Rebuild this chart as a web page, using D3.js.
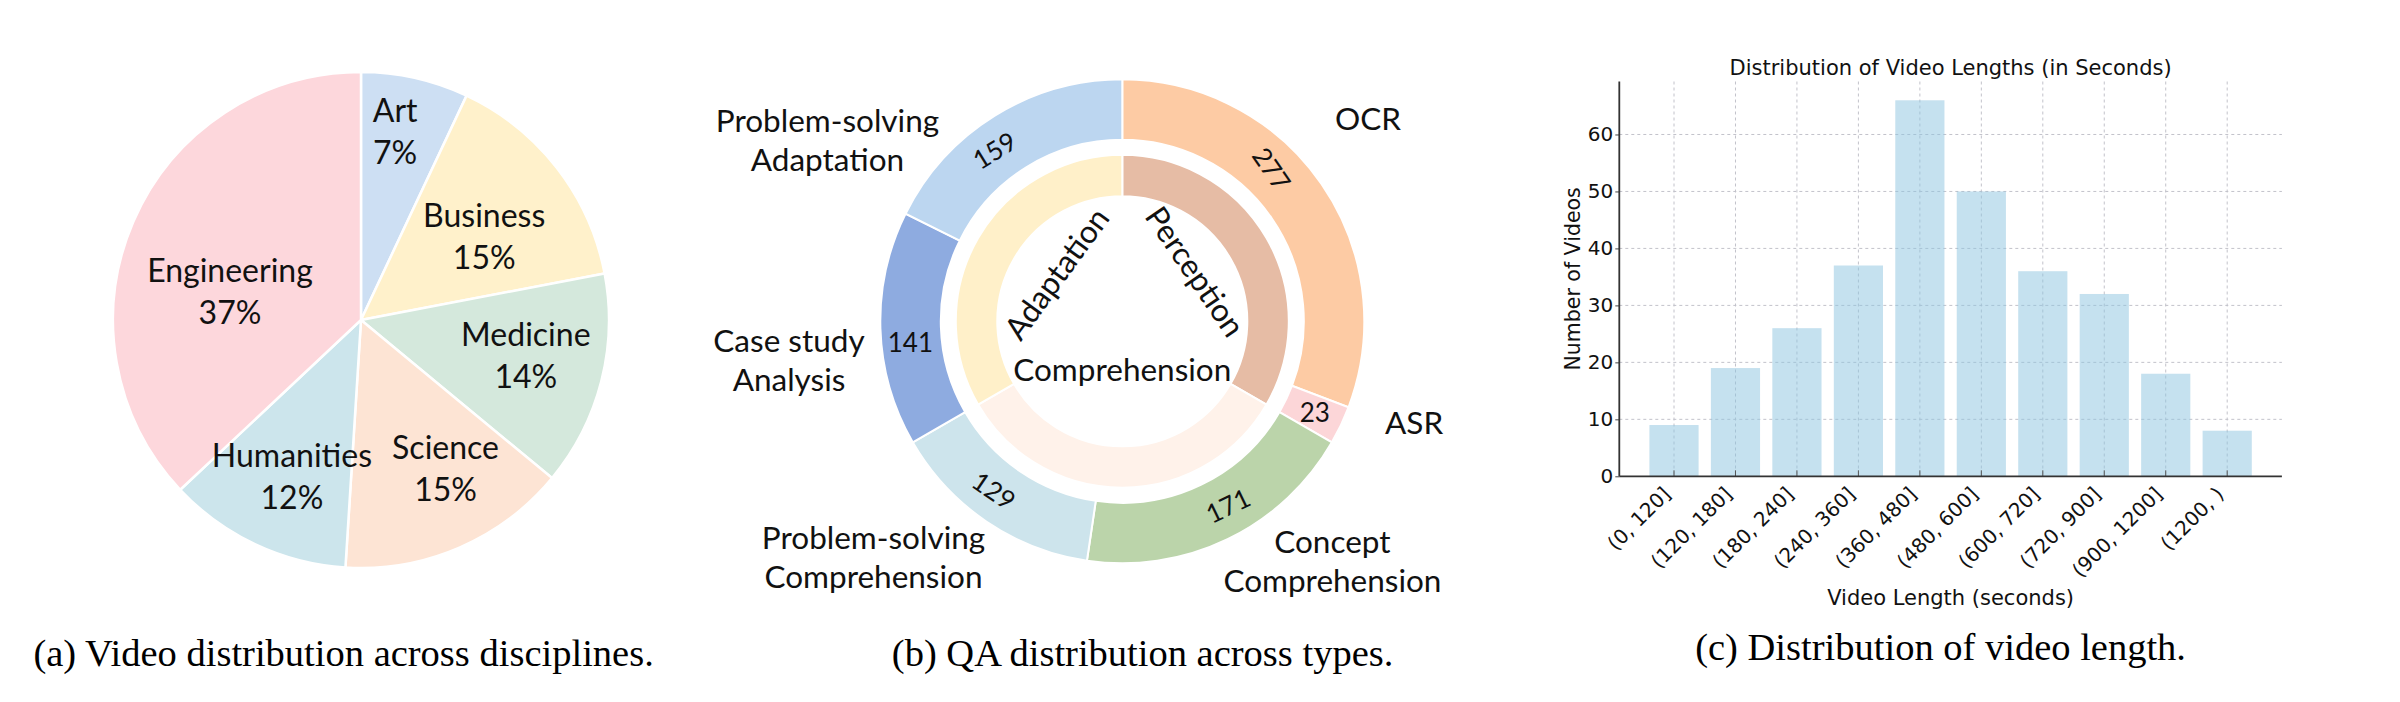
<!DOCTYPE html>
<html lang="en">
<head>
    <meta charset="UTF-8">
    <title>Video and QA distribution</title>
    <script src="https://cdn.jsdelivr.net/npm/d3@7"></script>
    <style>
        html, body {
            margin: 0;
            background: #fff;
        }
        svg { display: block; }
    </style>
</head>
<body>
<div id="vis"></div>
<script>
// (a) videos per discipline, percent
var disciplines = ['Art', 'Business', 'Medicine', 'Science', 'Humanities', 'Engineering'];
var disciplineShare = [7, 15, 14, 15, 12, 37];

// (b) QA counts per type (outer ring) and per group (inner ring)
var qaTypes = ['OCR', 'ASR', 'Concept Comprehension', 'Problem-solving Comprehension',
    'Case study Analysis', 'Problem-solving Adaptation'];
var qaCounts = [277, 23, 171, 129, 141, 159];
var qaGroups = ['Perception', 'Comprehension', 'Adaptation'];
var qaGroupCounts = [300, 300, 300];

// (c) video length histogram
var lengthBins = ['(0, 120]', '(120, 180]', '(180, 240]', '(240, 360]', '(360, 480]',
    '(480, 600]', '(600, 720]', '(720, 900]', '(900, 1200]', '(1200, )'];
var videoCounts = [9, 19, 26, 37, 66, 50, 36, 32, 18, 8];
var yTicks = [0, 10, 20, 30, 40, 50, 60];

// colours
var disciplineColours = ['#cddff3', '#fff1cb', '#d4e8dc', '#fde4d4', '#cce5ec', '#fdd7dc'];
var qaColours = ['#fdcba4', '#fcd6d8', '#bbd4aa', '#cde4ec', '#8eabe0', '#bcd6f0'];
var qaGroupColours = ['#e6bca5', '#fff2ea', '#fff0c9'];

var labelFont = 'Lato, "Open Sans", sans-serif';
var captionFont = '"Liberation Serif", "Times New Roman", serif';
var plotFont = '"DejaVu Sans", sans-serif';

var svg = d3.select('#vis')
    .append('svg')
    .attr('width', 2400)
    .attr('height', 702);

svg.append('rect')
    .attr('width', 2400)
    .attr('height', 702)
    .attr('fill', '#fff');

var rad = Math.PI / 180;

function spot(angleDeg, dist) {
    return [Math.sin(angleDeg * rad) * dist, -Math.cos(angleDeg * rad) * dist];
}

function midDeg(d) {
    return (d.startAngle + d.endAngle) / 2 / rad;
}

// ---------- (a) pie ----------
var pieR = 248;
// label placement: [distance as share of radius, angle nudge in degrees]
var pieLabelSpot = [[0.77, -2.3], [0.60, 3.7], [0.68, -2.2], [0.69, -6.2], [0.69, -1.4], [0.54, -11.4]];

var gA = svg.append('g')
    .attr('transform', 'translate(361,320)');

var pie = d3.pie().sort(null);
var arcA = d3.arc().innerRadius(0).outerRadius(pieR);

var slicesA = pie(disciplineShare);

gA.selectAll('.slice')
    .data(slicesA)
    .enter()
    .append('path')
    .attr('class', 'slice')
    .attr('d', arcA)
    .attr('fill', function(d, i) { return disciplineColours[i]; })
    .attr('stroke', '#fff')
    .attr('stroke-width', 2.5);

var labA = gA.selectAll('.lab')
    .data(slicesA)
    .enter()
    .append('g')
    .attr('class', 'lab')
    .attr('transform', function(d, i) {
        var p = spot(midDeg(d) + pieLabelSpot[i][1], pieLabelSpot[i][0] * pieR);
        return 'translate(' + p[0] + ',' + p[1] + ')';
    });

labA.append('text')
    .attr('y', -21)
    .attr('dy', '0.35em')
    .attr('text-anchor', 'middle')
    .style('font-family', labelFont)
    .style('font-size', '32px')
    .attr('fill', '#111')
    .text(function(d, i) { return disciplines[i]; });

labA.append('text')
    .attr('y', 21)
    .attr('dy', '0.35em')
    .attr('text-anchor', 'middle')
    .style('font-family', labelFont)
    .style('font-size', '32px')
    .attr('fill', '#111')
    .text(function(d) { return d.value + '%'; });

// ---------- (b) nested donut ----------
var outerArc = d3.arc().innerRadius(181.5).outerRadius(242);
var innerArc = d3.arc().innerRadius(125).outerRadius(166.5);
// where the numbers and names sit: angle nudge / [angle, distance]
var qaNumberNudge = [-11, 0, -4, 3, -4, -5];
var qaLabelSpot = [[50.5, 318.5], [109.2, 309], [138.8, 319], [226.5, 343], [263.3, 335.6], [301.5, 345.8]];
var qaGroupSpot = [[55.7, 88], [180, 49], [306, 81]];

var gB = svg.append('g')
    .attr('transform', 'translate(1122.3,321.3)');

var slicesOuter = pie(qaCounts);
var slicesInner = pie(qaGroupCounts);

gB.selectAll('.outer')
    .data(slicesOuter)
    .enter()
    .append('path')
    .attr('class', 'outer')
    .attr('d', outerArc)
    .attr('fill', function(d, i) { return qaColours[i]; })
    .attr('stroke', '#fff')
    .attr('stroke-width', 2);

gB.selectAll('.inner')
    .data(slicesInner)
    .enter()
    .append('path')
    .attr('class', 'inner')
    .attr('d', innerArc)
    .attr('fill', function(d, i) { return qaGroupColours[i]; })
    .attr('stroke', '#fff')
    .attr('stroke-width', 2);

function tangentRot(deg) {
    return ((deg + 90) % 180 + 180) % 180 - 90;
}

gB.selectAll('.num')
    .data(slicesOuter)
    .enter()
    .append('text')
    .attr('class', 'num')
    .attr('transform', function(d, i) {
        var m = midDeg(d);
        var p = spot(m + qaNumberNudge[i], 213);
        var r = tangentRot(m);
        if (Math.abs(r) > 60) r = 0;
        return 'translate(' + p[0] + ',' + p[1] + ') rotate(' + r + ')';
    })
    .attr('dy', '0.35em')
    .attr('text-anchor', 'middle')
    .style('font-family', labelFont)
    .style('font-size', '26px')
    .attr('fill', '#111')
    .text(function(d) { return d.value; });

gB.selectAll('.grp')
    .data(qaGroups)
    .enter()
    .append('text')
    .attr('class', 'grp')
    .attr('transform', function(d, i) {
        var s = qaGroupSpot[i];
        var p = spot(s[0], s[1]);
        return 'translate(' + p[0] + ',' + p[1] + ') rotate(' + tangentRot(s[0]) + ')';
    })
    .attr('dy', '0.35em')
    .attr('text-anchor', 'middle')
    .style('font-family', labelFont)
    .style('font-size', '31.5px')
    .attr('fill', '#111')
    .text(function(d) { return d; });

var typeLab = gB.selectAll('.type')
    .data(qaTypes)
    .enter()
    .append('text')
    .attr('class', 'type')
    .attr('transform', function(d, i) {
        var p = spot(qaLabelSpot[i][0], qaLabelSpot[i][1]);
        return 'translate(' + p[0] + ',' + p[1] + ')';
    })
    .attr('text-anchor', 'middle')
    .style('font-family', labelFont)
    .style('font-size', '31.5px')
    .attr('fill', '#111');

typeLab.each(function(d) {
    var cut = d.lastIndexOf(' ');
    var lines = cut < 0 ? [d] : [d.slice(0, cut), d.slice(cut + 1)];
    var t = d3.select(this);
    lines.forEach(function(line, k) {
        t.append('tspan')
            .attr('x', 0)
            .attr('y', (k - (lines.length - 1) / 2) * 39.5)
            .attr('dy', '0.35em')
            .text(line);
    });
});

// ---------- (c) histogram ----------
var plot = { left: 1619.3, right: 2281.9, top: 81.5, bottom: 476.3 };

var x_scale = d3.scaleBand()
    .domain(lengthBins)
    .range([plot.left, plot.right])
    .paddingInner(0.2)
    .paddingOuter(0.49);

var y_scale = d3.scaleLinear()
    .domain([0, d3.max(videoCounts) * 1.05])
    .range([plot.bottom, plot.top]);

var gC = svg.append('g');

// grid
gC.append('g')
    .selectAll('line')
    .data(yTicks.filter(function(v) { return v > 0; }))
    .enter()
    .append('line')
    .attr('x1', plot.left)
    .attr('x2', plot.right)
    .attr('y1', function(d) { return y_scale(d); })
    .attr('y2', function(d) { return y_scale(d); })
    .attr('stroke', '#c2c2ca')
    .attr('stroke-width', 1)
    .attr('stroke-dasharray', '3,3');

gC.append('g')
    .selectAll('line')
    .data(lengthBins)
    .enter()
    .append('line')
    .attr('x1', function(d) { return x_scale(d) + x_scale.bandwidth() / 2; })
    .attr('x2', function(d) { return x_scale(d) + x_scale.bandwidth() / 2; })
    .attr('y1', plot.top)
    .attr('y2', plot.bottom)
    .attr('stroke', '#c2c2ca')
    .attr('stroke-width', 1)
    .attr('stroke-dasharray', '3,3');

gC.selectAll('.bar')
    .data(videoCounts)
    .enter()
    .append('rect')
    .attr('class', 'bar')
    .attr('x', function(d, i) { return x_scale(lengthBins[i]); })
    .attr('width', x_scale.bandwidth())
    .attr('y', function(d) { return y_scale(d); })
    .attr('height', function(d) { return plot.bottom - y_scale(d); })
    .attr('fill', '#8cc4df')
    .attr('fill-opacity', 0.5);

var y_axis = d3.axisLeft(y_scale)
    .tickValues(yTicks)
    .tickSize(4)
    .tickPadding(2)
    .tickSizeOuter(0);

var x_axis = d3.axisBottom(x_scale)
    .tickSize(-6)
    .tickSizeOuter(0);

var yAx = gC.append('g')
    .attr('transform', 'translate(' + plot.left + ',0)')
    .call(y_axis);

yAx.select('.domain').remove();
yAx.selectAll('.tick line').attr('stroke', '#444');
yAx.selectAll('.tick text')
    .style('font-family', plotFont)
    .style('font-size', '20px')
    .attr('fill', '#111');

var xAx = gC.append('g')
    .attr('transform', 'translate(0,' + plot.bottom + ')')
    .call(x_axis);

xAx.select('.domain').remove();
xAx.selectAll('.tick line').attr('stroke', '#555');
xAx.selectAll('.tick text')
    .attr('text-anchor', 'end')
    .attr('x', -3)
    .attr('y', 0)
    .attr('dy', 0)
    .attr('transform', 'translate(0,17) rotate(-45)')
    .style('font-family', plotFont)
    .style('font-size', '20px')
    .attr('fill', '#111');

// spines
gC.append('line')
    .attr('x1', plot.left).attr('x2', plot.left)
    .attr('y1', plot.top).attr('y2', plot.bottom)
    .attr('stroke', '#333').attr('stroke-width', 1.8);
gC.append('line')
    .attr('x1', plot.left).attr('x2', plot.right)
    .attr('y1', plot.bottom).attr('y2', plot.bottom)
    .attr('stroke', '#333').attr('stroke-width', 1.8);

var midX = (plot.left + plot.right) / 2;

gC.append('text')
    .attr('x', midX)
    .attr('y', 75)
    .attr('text-anchor', 'middle')
    .style('font-family', plotFont)
    .style('font-size', '21px')
    .attr('fill', '#111')
    .text('Distribution of Video Lengths (in Seconds)');

gC.append('text')
    .attr('x', midX)
    .attr('y', 605)
    .attr('text-anchor', 'middle')
    .style('font-family', plotFont)
    .style('font-size', '21px')
    .attr('fill', '#111')
    .text('Video Length (seconds)');

gC.append('text')
    .attr('transform', 'translate(1579.5,' + (plot.top + plot.bottom) / 2 + ') rotate(-90)')
    .attr('text-anchor', 'middle')
    .style('font-family', plotFont)
    .style('font-size', '20.5px')
    .attr('fill', '#111')
    .text('Number of Videos');

// ---------- captions ----------
var captions = [
    { x: 343.6, y: 666, text: '(a) Video distribution across disciplines.' },
    { x: 1142.6, y: 666, text: '(b) QA distribution across types.' },
    { x: 1940.6, y: 660, text: '(c) Distribution of video length.' }
];

svg.selectAll('.caption')
    .data(captions)
    .enter()
    .append('text')
    .attr('class', 'caption')
    .attr('x', function(d) { return d.x; })
    .attr('y', function(d) { return d.y; })
    .attr('text-anchor', 'middle')
    .style('font-family', captionFont)
    .style('font-size', '38.5px')
    .attr('fill', '#000')
    .text(function(d) { return d.text; });
</script>
</body>
</html>
